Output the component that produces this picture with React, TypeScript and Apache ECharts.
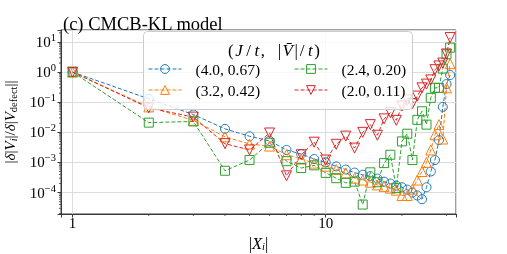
import React, { useEffect, useRef } from 'react';
import * as echarts from 'echarts';

const xPositions = [1, 2, 3, 4, 5, 6, 7, 8, 9, 10, 11, 12, 13, 14, 15, 16, 17, 18, 19, 20, 21, 22, 23, 24, 25, 26, 27, 28, 29, 30, 31];

const seriesLabels = ['(4.0, 0.67)', '(3.2, 0.42)', '(2.4, 0.20)', '(2.0, 0.11)'];

const blueValues = [1, 0.13, 0.039, 0.013, 0.0074, 0.0052, 0.0026, 0.0019, 0.0013, 0.001, 0.00074, 0.00058, 0.00046, 0.00039, 0.00035, 0.00029, 0.00023, 0.0002, 0.00017, 0.00015, 0.000125, 0.0001, 0.00008, 0.00006, 0.00015, 0.0005, 0.0012, 0.0055, 0.07, 0.4, 0.8];
const orangeValues = [1, 0.07, 0.025, 0.0071, 0.0041, 0.0035, 0.0018, 0.0013, 0.00095, 0.00075, 0.00058, 0.00045, 0.0003, 0.00026, 0.00022, 0.00018, 0.00016, 0.00014, 0.00012, 0.00008, 0.00008, 0.00013, 0.00026, 0.0005, 0.001, 0.0026, 0.0083, 0.018, 0.006, 0.3, 1.9];
const greenValues = [1, 0.021, 0.023, 0.00053, 0.0012, 0.0045, 0.0011, 0.00065, 0.0008, 0.00045, 0.0003, 0.00021, 0.00023, 0.00004, 0.00047, 0.00022, 0.00095, 0.0018, 0.00014, 0.005, 0.009, 0.0012, 0.026, 0.05, 0.018, 0.14, 0.3, 0.3, 1.3, 3.9, 6.5];
const redValues = [1, 0.065, 0.032, 0.0042, 0.0026, 0.0095, 0.00036, 0.0018, 0.0047, 0.0012, 0.004, 0.0075, 0.003, 0.01, 0.018, 0.008, 0.028, 0.045, 0.025, 0.075, 0.12, 0.09, 0.16, 0.3, 0.4, 0.55, 1.2, 1.6, 2.0, 4, 14];

const X_MIN = 0.9;
const X_MAX = 32.7;
const Y_MIN = 1.94e-5;
const Y_MAX = 25;

const xMinorTickValues = [2, 3, 4, 5, 6, 7, 8, 9, 20, 30];
const yMinorMantissas = [2, 3, 4, 5, 6, 7, 8, 9];
const yMinorDecades = [1e-5, 1e-4, 1e-3, 1e-2, 1e-1, 1, 10];

const FONT = "'Liberation Serif', 'DejaVu Serif', serif";
const COLORS = ['#1f77b4', '#ff7f0e', '#2ca02c', '#d62728'];
const AXIS_COLOR = '#3a3a3a';

function superscript(v: number): string {
  const e = Math.log10(v);
  const r = Math.round(e);
  if (Math.abs(e - r) > 1e-6) return '';
  const s = r < 0 ? '\u2212' + String(-r) : String(r);
  return '{b|10}{s|' + s + '}';
}

export default function App() {
  const ref = useRef<HTMLDivElement>(null);
  useEffect(() => {
    const chart = echarts.init(ref.current!, null, { renderer: 'svg' });

    const mk = (name: string, vals: number[], color: string, symbol: string, size: number, rotate: number) => ({
      type: 'line',
      name,
      data: xPositions.map((x, i) => [x, vals[i]]),
      symbol,
      symbolSize: size,
      symbolRotate: rotate,
      showAllSymbol: true,
      lineStyle: { color, width: 1, type: [4, 2] },
      itemStyle: { color: 'rgba(255,255,255,0)', borderColor: color, borderWidth: 1 },
      emphasis: { disabled: true },
      z: 2,
    });

    const yMinor: number[][] = [];
    yMinorDecades.forEach((d) => yMinorMantissas.forEach((m) => {
      const v = d * m;
      if (v > Y_MIN && v < Y_MAX) yMinor.push([X_MIN, v]);
    }));

    const italic = { fontStyle: 'italic', fontFamily: FONT, fontSize: 15, color: '#000', lineHeight: 18 };
    const normal = { fontFamily: FONT, fontSize: 15, color: '#000', lineHeight: 18 };
    const sub = { fontFamily: FONT, fontSize: 10.5, color: '#000', lineHeight: 11, verticalAlign: 'bottom' };
    const subIt = { ...sub, fontStyle: 'italic' };

    const legendCommon = {
      orient: 'vertical',
      itemWidth: 33,
      itemHeight: 11,
      itemGap: 5,
      padding: 0,
      selectedMode: false,
      itemStyle: { borderWidth: 1 },
      lineStyle: { width: 1 },
      textStyle: { fontFamily: FONT, fontSize: 15.5, color: '#000', padding: [0, 0, 0, 9] },
      z: 6,
    };

    const tN = { fontFamily: FONT, fontSize: 17, fill: '#000' };
    const tI = { fontFamily: FONT, fontSize: 17, fontStyle: 'italic', fill: '#000', padding: [0, 1.5, 0, 1.5] };
    const tS = { fontFamily: FONT, fontSize: 17, fill: '#000', padding: [0, 2, 0, 2] };

    const option: any = {
      animation: false,
      title: {
        text: '(c) CMCB-KL model',
        left: 58,
        top: 9,
        textStyle: { fontFamily: FONT, fontSize: 18.5, fontWeight: 'normal', color: '#000' },
      },
      grid: {
        left: 61, top: 30, width: 395, height: 184,
        containLabel: false,
        outerBoundsMode: 'none',
        show: true, borderColor: AXIS_COLOR, borderWidth: 1, backgroundColor: 'transparent',
      },
      xAxis: {
        type: 'log',
        logBase: 10,
        min: X_MIN,
        max: X_MAX,
        name: '{n||}{i|X}{si|i}{n||}',
        nameLocation: 'middle',
        nameGap: 14,
        nameTextStyle: { rich: { n: { ...normal, fontSize: 16.5 }, i: { ...italic, fontSize: 16.5 }, si: subIt } },
        axisLine: { show: true, lineStyle: { color: AXIS_COLOR, width: 1 } },
        axisTick: { show: true, length: 3.5, lineStyle: { color: AXIS_COLOR } },
        axisLabel: {
          fontFamily: FONT, fontSize: 15, color: '#000', margin: 1,
          formatter: (v: number) => {
            const e = Math.log10(v);
            return Math.abs(e - Math.round(e)) > 1e-6 ? '' : String(Math.round(v));
          },
        },
        splitLine: { show: true, lineStyle: { color: '#dcdcdc', width: 1 } },
      },
      yAxis: {
        type: 'log',
        logBase: 10,
        min: Y_MIN,
        max: Y_MAX,
        name: '{n||}{i|δ}{n||}{i|V}{si|i}{n||/}{i|δ}{n||}{i|V}{s|defect}{n|||}',
        nameLocation: 'middle',
        nameRotate: 90,
        nameGap: 33,
        nameTextStyle: { rich: { n: normal, i: italic, si: subIt, s: sub } },
        axisLine: { show: true, lineStyle: { color: AXIS_COLOR, width: 1 } },
        axisTick: { show: true, length: 3.5, lineStyle: { color: AXIS_COLOR } },
        axisLabel: {
          margin: 5,
          formatter: (v: number) => superscript(v),
          rich: {
            b: { fontFamily: FONT, fontSize: 15, color: '#000', lineHeight: 20 },
            s: { fontFamily: FONT, fontSize: 10.5, color: '#000', lineHeight: 11, verticalAlign: 'top' },
          },
        },
        splitLine: { show: true, lineStyle: { color: '#dcdcdc', width: 1 } },
      },
      legend: [
        { ...legendCommon, data: [seriesLabels[0], seriesLabels[1]], left: 148, top: 61 },
        { ...legendCommon, data: [seriesLabels[2], seriesLabels[3]], left: 294, top: 61 },
      ],
      graphic: [
        {
          type: 'rect',
          z: 4,
          silent: true,
          shape: { x: 143.5, y: 31.5, width: 269, height: 78, r: 4 },
          style: { fill: 'rgba(255,255,255,0.8)', stroke: '#cccccc', lineWidth: 1 },
        },
        {
          type: 'text',
          z: 6,
          silent: true,
          x: 274,
          y: 50,
          style: {
            text: '{n|(}{i|J}{s|/}{i|t}{n|,   |}{i|V\u0304}{n||}{s|/}{i|t}{n|)}',
            align: 'center',
            verticalAlign: 'middle',
            fontFamily: FONT,
            fontSize: 17,
            fill: '#000',
            rich: { n: tN, i: tI, s: tS },
          },
        },
      ],
      series: [
        mk(seriesLabels[0], blueValues, COLORS[0], 'circle', 9, 0),
        mk(seriesLabels[1], orangeValues, COLORS[1], 'triangle', 10, 0),
        mk(seriesLabels[2], greenValues, COLORS[2], 'rect', 9, 0),
        mk(seriesLabels[3], redValues, COLORS[3], 'triangle', 10, 180),
        {
          type: 'custom',
          silent: true,
          data: xMinorTickValues.map((v) => [v, Y_MIN]),
          renderItem: (params: any, api: any) => {
            const p = api.coord([api.value(0), Y_MIN]);
            return { type: 'line', shape: { x1: p[0], y1: p[1], x2: p[0], y2: p[1] + 2 }, style: { stroke: AXIS_COLOR, lineWidth: 0.8 } };
          },
          z: 3,
        },
        {
          type: 'custom',
          silent: true,
          data: yMinor,
          renderItem: (params: any, api: any) => {
            const p = api.coord([X_MIN, api.value(1)]);
            return { type: 'line', shape: { x1: p[0], y1: p[1], x2: p[0] - 2, y2: p[1] }, style: { stroke: AXIS_COLOR, lineWidth: 0.8 } };
          },
          z: 3,
        },
      ],
    };

    chart.setOption(option);
    return () => chart.dispose();
  }, []);
  return <div ref={ref} style={{ position: 'fixed', left: 0, top: 0, width: 507, height: 254 }} />;
}
